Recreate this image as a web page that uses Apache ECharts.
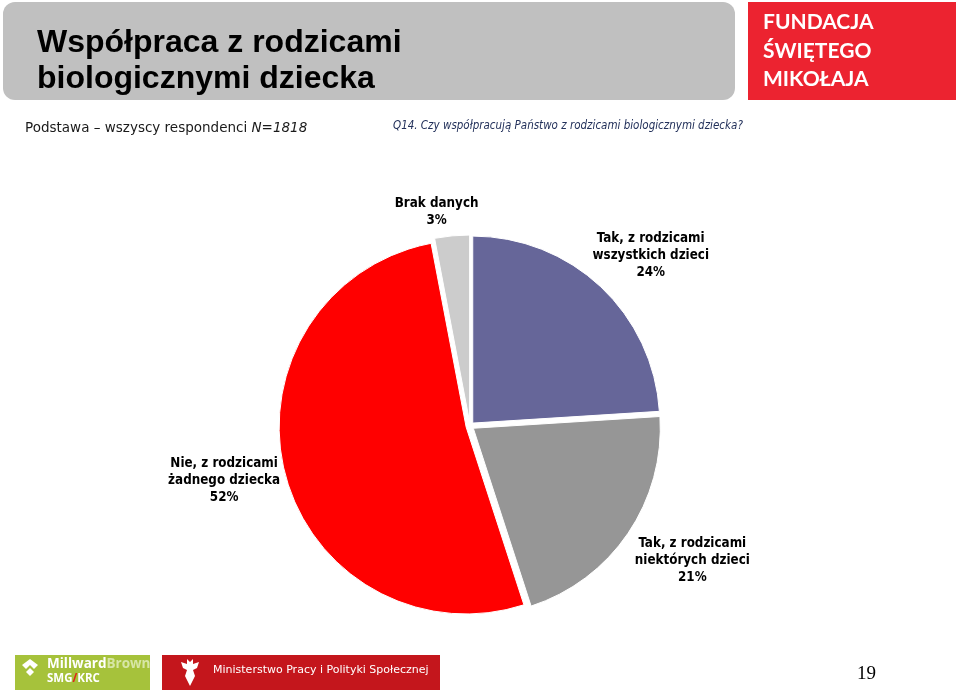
<!DOCTYPE html>
<html>
<head>
<meta charset="utf-8">
<script src="https://cdn.jsdelivr.net/npm/echarts@6/dist/echarts.min.js"></script>
<style>html,body{margin:0;padding:0;background:#fff;}#c{width:960px;height:692px;}</style>
</head>
<body>
<div id="c"></div>
<script>
const categories = ['Tak, z rodzicami\nwszystkich dzieci', 'Tak, z rodzicami\nniektórych dzieci', 'Nie, z rodzicami\nżadnego dziecka', 'Brak danych'];
const values = [24, 21, 52, 3];
const colors = ['#666699', '#969696', '#ff0000', '#cccccc'];
const labelPos = [[648, 258], [689, 558], [228, 480], [437, 216]];

const chart = echarts.init(document.getElementById('c'));
const labelFont = 'Tahoma, "DejaVu Sans Condensed", "DejaVu Sans", sans-serif';

chart.setOption({
  animation: false,
  graphic: [
    { type: 'rect', shape: { x: 3, y: 2, width: 732, height: 98, r: 12 }, style: { fill: '#c0c0c0' } },
    { type: 'text', x: 37, y: 25, style: { text: 'Współpraca z rodzicami\nbiologicznymi dziecka', font: 'bold 32px "Liberation Sans", Arial, sans-serif', lineHeight: 36, fill: '#000' } },
    { type: 'text', x: 25, y: 121, style: { rich: { n: { font: '13.5px "DejaVu Sans", Verdana, sans-serif', fill: '#1a1a1a' }, i: { font: 'italic 13.5px "DejaVu Sans", Verdana, sans-serif', fill: '#1a1a1a' } }, text: '{n|Podstawa – wszyscy respondenci }{i|N=1818}' } },
    { type: 'text', x: 393, y: 120, style: { text: 'Q14. Czy współpracują Państwo z rodzicami biologicznymi dziecka?', font: 'italic 11.5px "DejaVu Sans Condensed", "DejaVu Sans", sans-serif', fill: '#22305a' } },
    { type: 'rect', shape: { x: 748, y: 2, width: 208, height: 98 }, style: { fill: '#ec2330' } },
    { type: 'text', x: 763, y: 8, style: { text: 'FUNDACJA\nŚWIĘTEGO\nMIKOŁAJA', font: 'bold 21px Lato, "Open Sans", sans-serif', lineHeight: 28.5, fill: '#fff', letterSpacing: 4 } },
    { type: 'rect', shape: { x: 15, y: 655, width: 135, height: 35 }, style: { fill: '#a6c23b' } },
    { type: 'text', x: 47, y: 657, style: { rich: { a: { font: 'bold 13.5px "Open Sans", sans-serif', fill: '#fff' }, b: { font: 'bold 13.5px "Open Sans", sans-serif', fill: '#d7e6a6' } }, text: '{a|Millward}{b|Brown}' } },
    { type: 'text', x: 47, y: 673, style: { rich: { a: { font: 'bold 11.5px "Open Sans", sans-serif', fill: '#fff' }, r: { font: 'bold 11.5px "Open Sans", sans-serif', fill: '#e2231a' } }, text: '{a|SMG}{r|/}{a|KRC}' } },
    { type: 'polygon', shape: { points: [[22, 665], [30, 659], [38, 665], [34, 669], [30, 665], [26, 669]] }, style: { fill: '#fff' } },
    { type: 'polygon', shape: { points: [[26, 672], [30, 668], [34, 672], [30, 676]] }, style: { fill: '#fff' } },
    { type: 'rect', shape: { x: 162, y: 655, width: 278, height: 35 }, style: { fill: '#c4161c' } },
    { type: 'polygon', shape: { points: [[187, 659], [190, 662], [193, 659], [193, 664], [199, 662], [197, 668], [193, 670], [195, 676], [190, 686], [185, 676], [187, 670], [183, 668], [181, 662], [187, 664]] }, style: { fill: '#fff' } },
    { type: 'text', x: 213, y: 665, style: { text: 'Ministerstwo Pracy i Polityki Społecznej', font: '11px "DejaVu Sans", sans-serif', fill: '#fff' } },
    { type: 'text', x: 857, y: 665, style: { text: '19', font: '19px "Liberation Serif", serif', fill: '#000' } }
  ],
  series: [{
    type: 'pie',
    center: [470, 426],
    radius: 187,
    startAngle: 90,
    clockwise: true,
    selectedMode: 'multiple',
    selectedOffset: 4,
    emphasis: { disabled: true },
    itemStyle: { borderColor: '#fff', borderWidth: 1 },
    label: {
      show: true,
      position: 'outside',
      formatter: p => p.name.split('\n').concat([p.value + '%']).map(s => '{t|' + s + '}').join('\n'),
      rich: {
        t: { width: 150, align: 'center', fontFamily: labelFont, fontWeight: 'bold', fontSize: 13.3, lineHeight: 17, color: '#000' }
      }
    },
    labelLine: { show: false },
    labelLayout: p => {
      const r = p.labelRect;
      return {
        dx: labelPos[p.dataIndex][0] - (r.x + r.width / 2),
        dy: labelPos[p.dataIndex][1] - (r.y + r.height / 2)
      };
    },
    data: categories.map((c, i) => ({ name: c, value: values[i], selected: true, itemStyle: { color: colors[i] } }))
  }]
});
</script>
</body>
</html>
